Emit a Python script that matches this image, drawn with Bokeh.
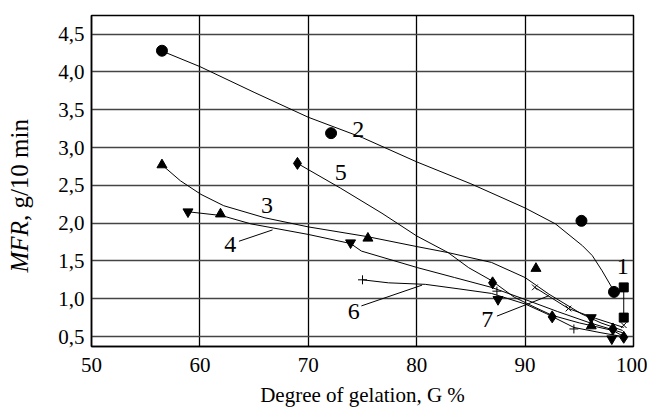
from bokeh.plotting import figure
from bokeh.models import FixedTicker, Div
from bokeh.layouts import row
from bokeh.core.properties import value
from bokeh.embed import file_html
from bokeh.resources import INLINE

# ---------------- data ----------------
x_ticks = [50, 60, 70, 80, 90, 100]
x_tick_labels = ["50", "60", "70", "80", "90", "100"]
y_ticks = [0.5, 1.0, 1.5, 2.0, 2.5, 3.0, 3.5, 4.0, 4.5]
y_tick_labels = ["0,5", "1,0", "1,5", "2,0", "2,5", "3,0", "3,5", "4,0", "4,5"]

# measured points
s1_x = [99.1, 99.1]
s1_y = [1.15, 0.75]
s2_x = [56.5, 72.1, 95.2, 98.2]
s2_y = [4.28, 3.19, 2.03, 1.09]
s3_x = [56.5, 61.9, 75.5, 91.0, 96.1]
s3_y = [2.77, 2.12, 1.80, 1.40, 0.64]
s4_x = [58.9, 73.9, 87.5, 96.1, 98.0]
s4_y = [2.15, 1.74, 0.99, 0.75, 0.47]
s5_x = [69.0, 87.0, 92.5, 98.1, 99.1]
s5_y = [2.79, 1.21, 0.76, 0.60, 0.49]
s6_x = [75.0, 87.4, 94.5]
s6_y = [1.25, 1.10, 0.60]
s7_x = [90.9, 94.0, 99.1]
s7_y = [1.15, 0.87, 0.65]

# fitted curves
c2_x = [56.6, 60, 65, 70, 75, 80, 85, 90, 92.8, 95.3, 96.2, 97.1, 98.2]
c2_y = [4.27, 4.07, 3.73, 3.40, 3.13, 2.81, 2.52, 2.20, 1.99, 1.70, 1.57, 1.37, 1.10]
c3_x = [56.5, 58.2, 60.1, 62.2, 66.0, 70.0, 75.5, 80.0, 82.9, 86.9, 90.0, 92.2, 95.2, 97.0, 99.0]
c3_y = [2.77, 2.56, 2.38, 2.23, 2.07, 1.95, 1.82, 1.69, 1.61, 1.48, 1.28, 1.06, 0.80, 0.68, 0.58]
c4_x = [58.9, 62.0, 64.7, 70.0, 73.9, 74.9, 80.1, 83.5, 86.9, 90.0, 93.0, 96.0, 99.0]
c4_y = [2.15, 2.10, 1.99, 1.85, 1.73, 1.63, 1.41, 1.28, 1.15, 0.99, 0.83, 0.68, 0.55]
c5_x = [69.0, 73.0, 76.8, 80.0, 82.9, 84.8, 86.9, 89.0, 91.0, 92.5, 95.0, 98.1, 99.1]
c5_y = [2.79, 2.46, 2.13, 1.83, 1.61, 1.41, 1.24, 1.02, 0.88, 0.78, 0.68, 0.58, 0.50]
c6_x = [75.0, 77.4, 80.8, 83.9, 86.9, 90.0, 92.0, 94.5, 97.0, 99.0]
c6_y = [1.25, 1.21, 1.19, 1.13, 1.07, 0.93, 0.80, 0.62, 0.55, 0.50]
c7_x = [90.9, 94.0, 96.5, 99.1]
c7_y = [1.15, 0.87, 0.74, 0.62]

# curve labels and leader lines
lab_text = ["1", "2", "3", "4", "5", "6", "7"]
lab_x = [99.0, 74.6, 66.2, 62.8, 73.0, 74.2, 86.5]
lab_y = [1.42, 3.24, 2.23, 1.72, 2.67, 0.83, 0.73]
lead4_x = [63.6, 66.7]
lead4_y = [1.76, 1.91]
lead6_x = [74.9, 80.5]
lead6_y = [0.905, 1.18]
lead7_x = [87.4, 92.2]
lead7_y = [0.77, 1.04]

FONT = "Liberation Serif"
FS = "21px"

p = figure(width=607, height=413, x_range=(50, 100), y_range=(0.368, 4.746),
           output_backend="svg", toolbar_location=None,
           min_border_left=51, min_border_right=14, min_border_top=15, min_border_bottom=67)
p.background_fill_color = "white"
p.border_fill_color = "white"
p.outline_line_color = "black"
p.outline_line_width = 1.5

p.xaxis.ticker = FixedTicker(ticks=x_ticks)
p.yaxis.ticker = FixedTicker(ticks=y_ticks)
p.xaxis.major_label_overrides = {t: l for t, l in zip(x_ticks, x_tick_labels)}
p.yaxis.major_label_overrides = {t: l for t, l in zip(y_ticks, y_tick_labels)}
for ax in (p.xaxis, p.yaxis):
    ax.major_tick_in = 0
    ax.major_tick_out = 0
    ax.minor_tick_in = 0
    ax.minor_tick_out = 0
    ax.axis_line_color = "black"
    ax.axis_line_width = 1.5
    ax.major_label_text_font = FONT
    ax.major_label_text_font_size = FS
    ax.major_label_text_color = "black"
p.xaxis.major_label_standoff = 11
p.yaxis.major_label_standoff = 7
p.xaxis.axis_label = "Degree of gelation, G %"
p.xaxis.axis_label_text_font = FONT
p.xaxis.axis_label_text_font_size = FS
p.xaxis.axis_label_text_font_style = "normal"
p.xaxis.axis_label_text_color = "black"
p.xaxis.axis_label_standoff = 8

p.xgrid.ticker = FixedTicker(ticks=x_ticks)
p.ygrid.ticker = FixedTicker(ticks=y_ticks)
p.xgrid.grid_line_color = "black"
p.xgrid.grid_line_width = 1.3
p.ygrid.grid_line_color = "#444444"
p.ygrid.grid_line_width = 1.3

LW = 1.0
for cx, cy in [(c2_x, c2_y), (c3_x, c3_y), (c4_x, c4_y), (c5_x, c5_y), (c6_x, c6_y), (c7_x, c7_y),
               (s1_x, s1_y), (lead4_x, lead4_y), (lead6_x, lead6_y), (lead7_x, lead7_y)]:
    p.line(cx, cy, line_color="black", line_width=LW)

p.scatter(s1_x, s1_y, marker="square", size=9, color="black")
p.scatter(s2_x, s2_y, marker="circle", size=11, color="black")
p.scatter(s3_x, s3_y, marker="triangle", size=10, color="black")
p.scatter(s4_x, s4_y, marker="inverted_triangle", size=10, color="black")
p.scatter(s5_x, s5_y, marker="diamond", size=12, color="black")
p.scatter(s6_x, s6_y, marker="cross", size=9, line_color="black", line_width=1)
p.scatter(s7_x, s7_y, marker="x", size=8, line_color="black", line_width=1)

p.text(lab_x, lab_y, text=lab_text, text_font=value(FONT), text_font_size="24px",
       text_align="center", text_baseline="middle", text_color="black")

# y-axis title with italic "MFR"
ylab = Div(text=(
    '<div style="width:40px;height:413px;display:flex;align-items:center;'
    'justify-content:center;box-sizing:border-box;padding-bottom:22px;">'
    '<span style="writing-mode:vertical-rl;transform:rotate(180deg);'
    "font-family:'Liberation Serif';font-size:25px;white-space:nowrap;color:black;\">"
    '<i>MFR</i>, g/10 min</span></div>'), width=40, height=413, margin=(0, 0, 0, 0))

layout = row(ylab, p, spacing=0)
open("out.html", "w").write(file_html(layout, INLINE))
